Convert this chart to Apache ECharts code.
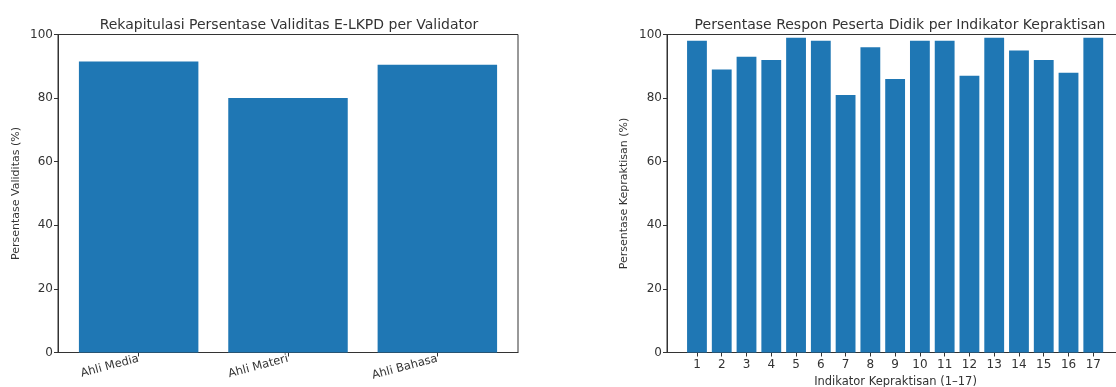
<!DOCTYPE html>
<html>
<head>
<meta charset="utf-8">
<script src="https://cdn.jsdelivr.net/npm/echarts@6/dist/echarts.min.js"></script>
<style>
  html, body { margin: 0; padding: 0; background: #fff; }
  #chart { width: 1116px; height: 387px; }
</style>
</head>
<body>
<div id="chart"></div>
<script>
// data
const validators = ['Ahli Media', 'Ahli Materi', 'Ahli Bahasa']
const validitas = [91.5, 80, 90.5]

const indikator = [1, 2, 3, 4, 5, 6, 7, 8, 9, 10, 11, 12, 13, 14, 15, 16, 17]
const kepraktisan = [98, 89, 93, 92, 99, 98, 81, 96, 86, 98, 98, 87, 99, 95, 92, 88, 99]

const yTicks = [0, 20, 40, 60, 80, 100]

const FONT = 'DejaVu Sans'
const TXT = '#333'
const BAR = '#1f77b4'

// axis ranges like matplotlib (bar width 0.8, 5% margins)
const leftRange = [-0.54, 2.54]
const rightRange = [-0.21, 18.24]
const leftW = 518 - 58
const rightW = 1124 - 667

const chart = echarts.init(document.getElementById('chart'))

const yAxisBase = (gridIndex, name, gap) => ({
  type: 'value',
  gridIndex,
  min: yTicks[0],
  max: yTicks[yTicks.length - 1],
  interval: 20,
  name,
  nameLocation: 'middle',
  nameGap: gap,
  nameTextStyle: { fontFamily: FONT, fontSize: 11, color: TXT },
  axisLine: { show: true, onZero: false, lineStyle: { color: '#333', width: 1 } },
  axisTick: { show: true, inside: false, length: 4, lineStyle: { color: '#333' } },
  axisLabel: { fontFamily: FONT, fontSize: 12, color: TXT, margin: 5 },
  splitLine: { show: false }
})

const gridBase = {
  top: 34.5, bottom: 34.5,
  outerBoundsMode: 'none',
  containLabel: false,
  show: true, borderColor: '#333', borderWidth: 1, backgroundColor: 'transparent'
}

const option = {
  animation: false,
  title: [
    {
      text: 'Rekapitulasi Persentase Validitas E-LKPD per Validator',
      left: 284, top: 13, textAlign: 'center',
      textStyle: { fontFamily: FONT, fontSize: 14, fontWeight: 'normal', color: TXT }
    },
    {
      text: 'Persentase Respon Peserta Didik per Indikator Kepraktisan',
      left: 895, top: 13, textAlign: 'center',
      textStyle: { fontFamily: FONT, fontSize: 14, fontWeight: 'normal', color: TXT }
    }
  ],
  grid: [
    Object.assign({ left: 58, right: 1116 - 518 }, gridBase),
    Object.assign({ left: 667, right: 1116 - 1124 }, gridBase)
  ],
  xAxis: [
    {
      type: 'value',
      gridIndex: 0,
      min: leftRange[0],
      max: leftRange[1],
      axisLine: { show: true, onZero: false, lineStyle: { color: '#333' } },
      axisTick: { show: true, length: 4, customValues: validators.map((_, i) => i), lineStyle: { color: '#333' } },
      axisLabel: {
        customValues: validators.map((_, i) => i),
        formatter: v => validators[Math.round(v)],
        rotate: 15,
        fontFamily: FONT, fontSize: 11.5, color: TXT, margin: 6
      },
      splitLine: { show: false }
    },
    {
      type: 'value',
      gridIndex: 1,
      min: rightRange[0],
      max: rightRange[1],
      name: 'Indikator Kepraktisan (1–17)',
      nameLocation: 'middle',
      nameGap: 24,
      nameTextStyle: { fontFamily: FONT, fontSize: 11.5, color: TXT },
      axisLine: { show: true, onZero: false, lineStyle: { color: '#333' } },
      axisTick: { show: true, length: 4, customValues: indikator, lineStyle: { color: '#333' } },
      axisLabel: {
        customValues: indikator,
        fontFamily: FONT, fontSize: 12, color: TXT, margin: 6
      },
      splitLine: { show: false }
    }
  ],
  yAxis: [
    yAxisBase(0, 'Persentase Validitas (%)', 36),
    yAxisBase(1, 'Persentase Kepraktisan (%)', 37)
  ],
  series: [
    {
      type: 'bar',
      xAxisIndex: 0,
      yAxisIndex: 0,
      barWidth: 0.8 * leftW / (leftRange[1] - leftRange[0]),
      itemStyle: { color: BAR },
      data: validators.map((_, i) => [i, validitas[i]])
    },
    {
      type: 'bar',
      xAxisIndex: 1,
      yAxisIndex: 1,
      barWidth: 0.8 * rightW / (rightRange[1] - rightRange[0]),
      itemStyle: { color: BAR },
      data: indikator.map((k, i) => [k, kepraktisan[i]])
    }
  ]
}

chart.setOption(option)
</script>
</body>
</html>
